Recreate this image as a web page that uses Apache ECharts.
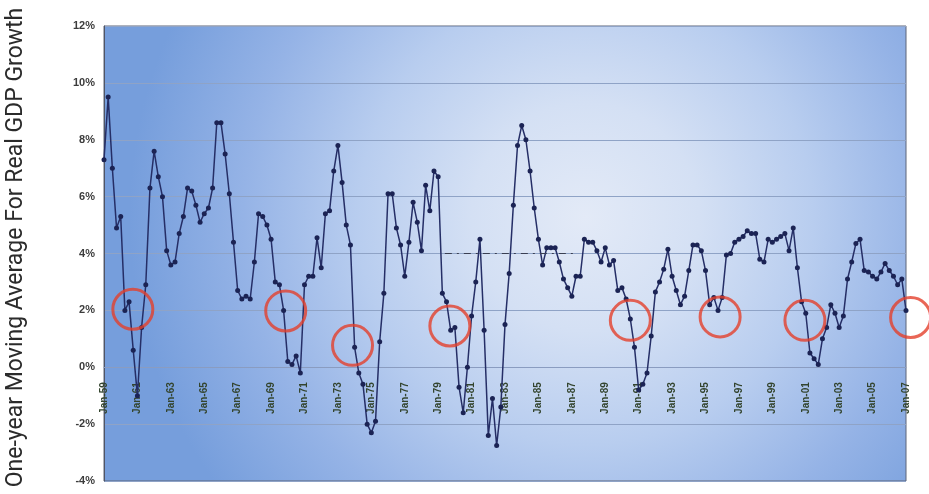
<!DOCTYPE html>
<html>
<head>
<meta charset="utf-8">
<script src="https://cdn.jsdelivr.net/npm/echarts@6/dist/echarts.min.js"></script>
<style>
  html, body { margin: 0; padding: 0; background: #ffffff; }
  #chart { width: 929px; height: 494px; }
</style>
</head>
<body>
<div id="chart"></div>
<script>
// Quarterly series, Jan-59 through Jan-07
const startYear = 1959;
const quarterMonths = ['Jan', 'Apr', 'Jul', 'Oct'];

// One-year moving average of real GDP growth, percent
const growth = [
  7.3, 9.5, 7.0, 4.9, 5.3, 2.0, 2.3, 0.6, -1.0, 1.4,
  2.9, 6.3, 7.6, 6.7, 6.0, 4.1, 3.6, 3.7, 4.7, 5.3,
  6.3, 6.2, 5.7, 5.1, 5.4, 5.6, 6.3, 8.6, 8.6, 7.5,
  6.1, 4.4, 2.7, 2.4, 2.5, 2.4, 3.7, 5.4, 5.3, 5.0,
  4.5, 3.0, 2.9, 2.0, 0.2, 0.1, 0.4, -0.2, 2.9, 3.2,
  3.2, 4.55, 3.5, 5.4, 5.5, 6.9, 7.8, 6.5, 5.0, 4.3,
  0.7, -0.2, -0.6, -2.0, -2.3, -1.9, 0.9, 2.6, 6.1, 6.1,
  4.9, 4.3, 3.2, 4.4, 5.8, 5.1, 4.1, 6.4, 5.5, 6.9,
  6.7, 2.6, 2.3, 1.3, 1.4, -0.7, -1.6, 0.0, 1.8, 3.0,
  4.5, 1.3, -2.4, -1.1, -2.75, -1.4, 1.5, 3.3, 5.7, 7.8,
  8.5, 8.0, 6.9, 5.6, 4.5, 3.6, 4.2, 4.2, 4.2, 3.7,
  3.1, 2.8, 2.5, 3.2, 3.2, 4.5, 4.4, 4.4, 4.1, 3.7,
  4.2, 3.6, 3.75, 2.7, 2.8, 2.4, 1.7, 0.7, -0.8, -0.6,
  -0.2, 1.1, 2.65, 3.0, 3.45, 4.15, 3.2, 2.7, 2.2, 2.5,
  3.4, 4.3, 4.3, 4.1, 3.4, 2.2, 2.45, 2.0, 2.45, 3.95,
  4.0, 4.4, 4.5, 4.6, 4.8, 4.7, 4.7, 3.8, 3.7, 4.5,
  4.4, 4.5, 4.6, 4.7, 4.1, 4.9, 3.5, 2.3, 1.9, 0.5,
  0.3, 0.1, 1.0, 1.4, 2.2, 1.9, 1.4, 1.8, 3.1, 3.7,
  4.35, 4.5, 3.4, 3.35, 3.2, 3.1, 3.35, 3.65, 3.4, 3.2,
  2.9, 3.1, 2.0
];

// Highlighted slowdowns: [quarter index, percent]
const circled = [
  [6.9, 2.04], [43.5, 1.98], [59.5, 0.77], [82.8, 1.45],
  [126.0, 1.65], [147.5, 1.77], [167.8, 1.65], [193.1, 1.75]
];

// Dash-dot guide at the 4% level: [quarter index, percent]
const guideStart = [81.6, 4];
const guideEnd = [112.7, 4];

// Value axis range and step
const yMin = -4, yMax = 12, yStep = 2;

const categories = growth.map((_, i) =>
  quarterMonths[i % 4] + '-' + String((startYear + Math.floor(i / 4)) % 100).padStart(2, '0'));

// Plot box
const plotTop = 26, plotHeight = 455;
// Shift the category axis up from the bottom edge to the 0% line
const zeroLift = -plotHeight * (0 - yMin) / (yMax - yMin);

const chart = echarts.init(document.getElementById('chart'), null, { renderer: 'canvas' });

chart.setOption({
  animation: false,
  backgroundColor: '#ffffff',
  grid: {
    left: 104, top: plotTop, width: 802, height: plotHeight,
    outerBoundsMode: 'none',
    containLabel: false,
    show: true,
    borderColor: '#5d6578',
    borderWidth: 1,
    backgroundColor: new echarts.graphic.RadialGradient(0.6, 0.42, 1.0, [
      { offset: 0, color: '#e3eaf7' },
      { offset: 0.25, color: '#d4e0f4' },
      { offset: 0.5, color: '#b8cdef' },
      { offset: 0.75, color: '#95b3e6' },
      { offset: 1, color: '#769edc' }
    ])
  },
  xAxis: [
    {
      type: 'category',
      data: categories,
      boundaryGap: false,
      position: 'bottom',
      offset: zeroLift,
      axisLine: { onZero: false, lineStyle: { color: '#8a9cc0', width: 1 } },
      axisTick: { show: false },
      axisLabel: {
        interval: 7,
        rotate: 90,
        margin: 15,
        fontFamily: 'Liberation Sans',
        fontSize: 10,
        fontWeight: 'bold',
        color: '#34452f'
      },
      splitLine: { show: false }
    },
    {
      type: 'value',
      min: 0, max: growth.length - 1,
      show: false
    }
  ],
  yAxis: {
    type: 'value',
    min: yMin, max: yMax, interval: yStep,
    axisLine: { show: true, onZero: false, lineStyle: { color: '#4f5566', width: 1 } },
    axisTick: { show: false },
    axisLabel: {
      formatter: '{value}%',
      margin: 9,
      fontFamily: 'Liberation Sans',
      fontSize: 11,
      fontWeight: 'bold',
      color: '#3c3c3c'
    },
    splitLine: { show: true, lineStyle: { color: '#8fa3c6', width: 1 } },
    name: 'One-year Moving Average For Real GDP Growth',
    nameLocation: 'middle',
    nameGap: 76,
    nameTextStyle: {
      fontFamily: 'Roboto',
      fontSize: 23,
      color: '#2b2b2b',
      padding: [0, 0, 0, 12]
    }
  },
  series: [
    {
      type: 'line',
      data: growth,
      xAxisIndex: 0,
      showAllSymbol: true,
      symbol: 'circle',
      symbolSize: 5,
      lineStyle: { color: '#252e66', width: 1.5 },
      itemStyle: { color: '#1b2354' },
      z: 3
    },
    {
      type: 'scatter',
      xAxisIndex: 1,
      data: circled,
      symbol: 'circle',
      symbolSize: 40,
      clip: false,
      itemStyle: {
        color: 'rgba(255,255,255,0)',
        borderColor: '#e3402c',
        borderWidth: 3
      },
      markLine: {
        silent: true,
        symbol: 'none',
        label: { show: false },
        lineStyle: { color: '#3a3f52', width: 1, type: [7, 5, 2, 5] },
        data: [[{ coord: guideStart }, { coord: guideEnd }]]
      },
      z: 4
    }
  ]
});
</script>
</body>
</html>
